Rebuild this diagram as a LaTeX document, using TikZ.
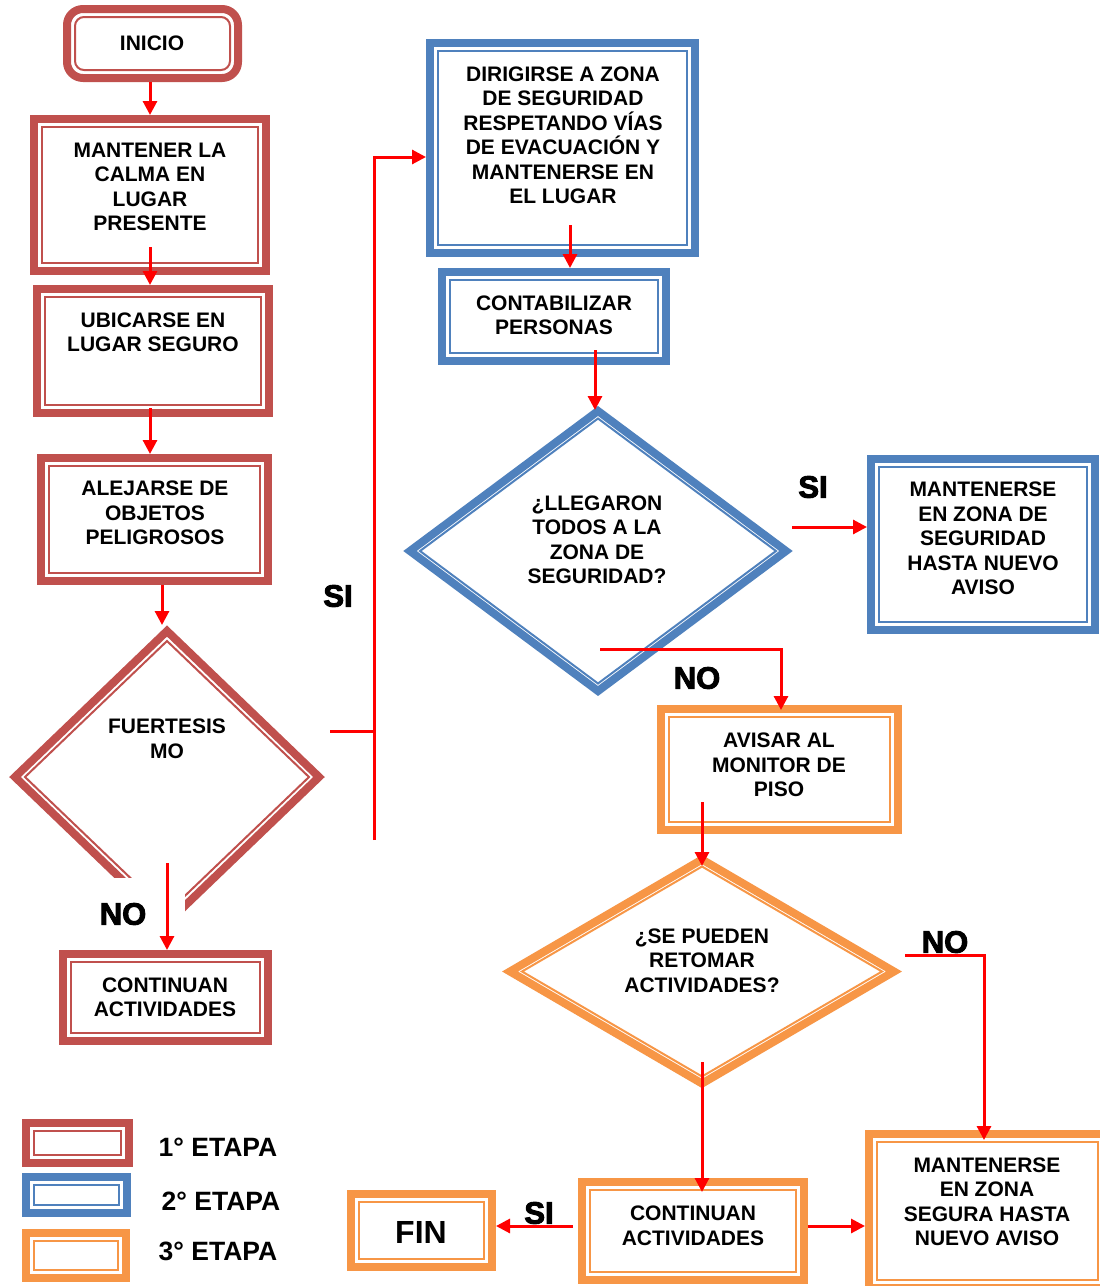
\documentclass[tikz,border=0pt]{standalone}
\usepackage{fontspec}
\setmainfont{Liberation Sans}
\newfontfamily\heavyfont[BoldFeatures={FakeBold=3}]{Liberation Sans}
\usetikzlibrary{arrows.meta,calc}
\definecolor{cred}{HTML}{C0504D}
\definecolor{cblue}{HTML}{4F81BD}
\definecolor{corange}{HTML}{F79646}
\definecolor{ar}{HTML}{FF0000}
% name, x1, y1, x2, y2, colour
\newcommand\mybox[6]{%
  \node[draw=#6, line width=8pt, fill=white, inner sep=0pt,
        minimum width={#4-#2-8}, minimum height={#5-#3-8}] (#1) at ({(#2+#4)/2},{(#3+#5)/2}) {};
  \draw[#6, line width=2pt] ($(#1.north west)+(12,12)$) rectangle ($(#1.south east)+(-12,-12)$);
}
% name, cx, cy, a, b, ai, bi, colour
\newcommand\mydiam[8]{%
  \draw[#8, line width=8pt, line join=miter, fill=white]
    ({#2-#4},#3) -- (#2,{#3-#5}) -- ({#2+#4},#3) -- (#2,{#3+#5}) -- cycle;
  \draw[#8, line width=2pt, line join=miter]
    ({#2-#6},#3) -- (#2,{#3-#7}) -- ({#2+#6},#3) -- (#2,{#3+#7}) -- cycle;
}
\begin{document}
\begin{tikzpicture}[x=1pt,y=-1pt,
  txt/.style={font=\bfseries\fontsize{21}{24.5}\selectfont, align=center, inner sep=0pt},
  lbl/.style={font=\heavyfont\bfseries\fontsize{31}{31}\selectfont, inner sep=0pt},
  leg/.style={font=\bfseries\fontsize{26.5}{26.5}\selectfont, inner sep=0pt},
  arr/.style={draw=ar, line width=3pt, -{Triangle[length=14pt,width=14pt]}},
  rl/.style={draw=ar, line width=3pt}]
\useasboundingbox (0,0) rectangle (1100,1286);
\fill[white] (0,0) rectangle (1100,1286);

% ---------- 1a etapa ----------
\node[draw=cred, line width=8pt, fill=white, rounded corners=16pt, inner sep=0pt,
      minimum width=171, minimum height=69] (ini) at (152.5,43.5) {};
\draw[cred, line width=2pt, rounded corners=9pt] ($(ini.north west)+(12,12)$) rectangle ($(ini.south east)+(-12,-12)$);
\node[txt] (tini) at (152,43) {INICIO};

\mybox{mant}{30}{115}{270}{275}{cred}
\node[txt] (tmant) at (150,187) {MANTENER LA\\CALMA EN\\LUGAR\\PRESENTE};

\mybox{ubic}{33}{285}{273}{417}{cred}
\node[txt] (tubic) at (153,332.5) {UBICARSE EN\\LUGAR SEGURO};

\mybox{alej}{37}{454}{272}{585}{cred}
\node[txt] (talej) at (155,513) {ALEJARSE DE\\OBJETOS\\PELIGROSOS};

\mydiam{fuer}{167}{777}{152}{146}{142}{136}{cred}
\coordinate (fuer-n) at (167,625);
\node[txt] (tfuer) at (167,739) {FUERTESIS\\MO};
\fill[white] (98,878) rectangle (185,945);

\mybox{cont1}{59}{950}{272}{1045}{cred}
\node[txt] (tcont1) at (165,997.5) {CONTINUAN\\ACTIVIDADES};

% ---------- 2a etapa ----------
\mybox{diri}{426}{39}{699}{257}{cblue}
\node[txt] (tdiri) at (563,135.5) {DIRIGIRSE A ZONA\\DE SEGURIDAD\\RESPETANDO VÍAS\\DE EVACUACIÓN Y\\MANTENERSE EN\\EL LUGAR};

\mybox{conta}{438}{268}{670}{365}{cblue}
\node[txt] (tconta) at (554,315.5) {CONTABILIZAR\\PERSONAS};

\mydiam{lleg}{598}{551}{188}{140}{178}{132.5}{cblue}
\coordinate (lleg-n) at (598,410);
\node[txt] (tlleg) at (597,540) {¿LLEGARON\\TODOS A LA\\ZONA DE\\SEGURIDAD?};

\mybox{mzs}{867}{455}{1099}{634}{cblue}
\node[txt] (tmzs) at (983,538.5) {MANTENERSE\\EN ZONA DE\\SEGURIDAD\\HASTA NUEVO\\AVISO};

% ---------- 3a etapa ----------
\mybox{avis}{657}{705}{902}{834}{corange}
\node[txt] (tavis) at (779,765) {AVISAR AL\\MONITOR DE\\PISO};

\mydiam{reto}{702}{971.5}{192}{112}{180}{105}{corange}
\coordinate (reto-n) at (702,866);
\node[txt] (treto) at (702,960.5) {¿SE PUEDEN\\RETOMAR\\ACTIVIDADES?};

\mybox{cont2}{578}{1178}{808}{1284}{corange}
\node[txt] (tcont2) at (693,1226) {CONTINUAN\\ACTIVIDADES};

\mybox{fin}{347}{1190}{496}{1271}{corange}
\node[font=\bfseries\fontsize{32}{32}\selectfont, inner sep=0pt] (tfin) at (421,1232) {FIN};

\mybox{mzs2}{865}{1130}{1110}{1292}{corange}
\node[txt] (tmzs2) at (987,1202) {MANTENERSE\\EN ZONA\\SEGURA HASTA\\NUEVO AVISO};

% ---------- legend ----------
\mybox{lg1}{22}{1119}{133}{1167}{cred}
\mybox{lg2}{22}{1173}{131}{1217}{cblue}
\mybox{lg3}{22}{1229}{130}{1282}{corange}
\node[leg] (tlg1) at (218,1147) {1° ETAPA};
\node[leg] (tlg2) at (221,1201) {2° ETAPA};
\node[leg] (tlg3) at (218,1251) {3° ETAPA};

% ---------- labels ----------
\node[lbl] (si1) at (338,596) {SI};
\node[lbl] (no1) at (123,914) {NO};
\node[lbl] (si2) at (813,487) {SI};
\node[lbl] (no2) at (697,678) {NO};
\node[lbl] (no3) at (945,942) {NO};
\node[lbl] (si3) at (539,1213) {SI};

% ---------- connectors ----------
\coordinate (c2) at (150,247);
\coordinate (c3) at (150,408);
\coordinate (c4) at (162,585);
\coordinate (c5) at (330,731);
\coordinate (sv) at (374,840);
\coordinate (c6) at (374,157);
\coordinate (c7) at (167,863);
\coordinate (c8) at (570,225);
\coordinate (c9) at (595,350);
\coordinate (c10) at (792,527);
\coordinate (c11) at (600,649);
\coordinate (c12) at (781,710);
\coordinate (c13) at (702,802);
\coordinate (c14) at (905,955);
\coordinate (c14b) at (984,1140);
\coordinate (c15) at (702,1062);
\coordinate (c15b) at (702,1192);
\coordinate (c16) at (573,1226);
\coordinate (c17) at (808,1226);

\draw[arr] (ini.south -| mant.north) -- (mant.north);
\draw[arr] (c2) -- (c2 |- ubic.north);
\draw[arr] (c3) -- (c3 |- alej.north);
\draw[arr] (c4) -- (c4 |- fuer-n);
\draw[rl] (c5) -- (c5 -| sv);
\draw[arr] (sv) -- (c6) -- (c6 -| diri.west);
\draw[arr] (c7) -- (c7 |- cont1.north);
\draw[arr] (c8) -- (c8 |- conta.north);
\draw[arr] (c9) -- (c9 |- lleg-n);
\draw[arr] (c10) -- (c10 -| mzs.west);
\draw[arr] (c11) -| (c12);
\draw[arr] (c13) -- (reto-n);
\draw[arr] (c14) -| (c14b);
\draw[arr] (c15) -- (c15b);
\draw[arr] (c16) -- (c16 -| fin.east);
\draw[arr] (c17) -- (c17 -| mzs2.west);
\end{tikzpicture}
\end{document}
